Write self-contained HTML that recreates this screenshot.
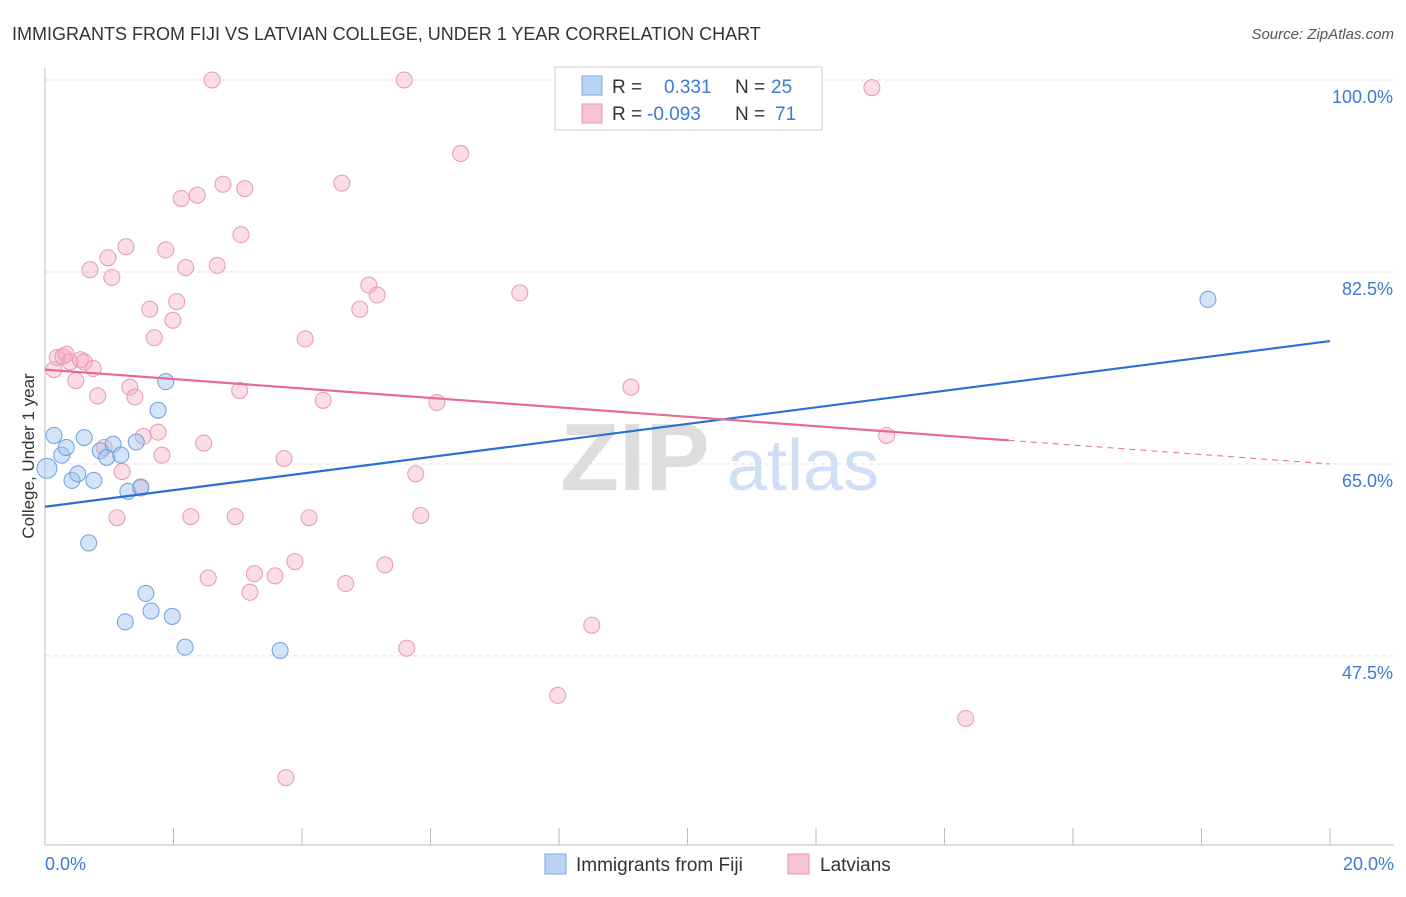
<!DOCTYPE html>
<html><head><meta charset="utf-8">
<style>
body{margin:0;background:#fff;font-family:"Liberation Sans",sans-serif;}
svg text{font-family:"Liberation Sans",sans-serif;}
</style></head>
<body>
<svg width="1406" height="892" xmlns="http://www.w3.org/2000/svg">
<text x="12" y="40" font-size="18" fill="#333">IMMIGRANTS FROM FIJI VS LATVIAN COLLEGE, UNDER 1 YEAR CORRELATION CHART</text>
<text x="1394" y="39" font-size="15" fill="#555" text-anchor="end" font-style="italic">Source: ZipAtlas.com</text>
<g id="grid"></g>
<g>
<text x="635" y="490" font-size="96" fill="#ddd" font-family="Liberation Serif" text-anchor="middle" font-weight="bold">ZIP</text>
<text x="803" y="490" font-size="72" fill="#cfe0f5" text-anchor="middle">atlas</text>
</g>
<line x1="45" y1="68" x2="45" y2="845" stroke="#bbb"/>
<line x1="45" y1="845" x2="1394" y2="845" stroke="#bbb"/>
<g id="ticks"></g>
<g id="ylabels"></g>
<text x="45" y="870" font-size="18" fill="#3a7bd5">0.0%</text>
<text x="1394" y="870" font-size="18" fill="#3a7bd5" text-anchor="end">20.0%</text>
<text transform="translate(34,456) rotate(-90)" font-size="17" fill="#333" text-anchor="middle">College, Under 1 year</text>
<g id="pink"></g>
<g id="blue"></g>
<g id="lines"></g>
<g>
<rect x="555" y="67" width="267" height="63" fill="#fff" stroke="#ccc"/>
<rect x="582" y="76" width="20" height="19" fill="#b8d3f5" stroke="#7aa8e0"/>
<rect x="582" y="104" width="20" height="19" fill="#f8c3d4" stroke="#e896b0"/>
<text x="612" y="93" font-size="19" fill="#333">R = </text><text x="664" y="93" font-size="19" fill="#3a7bd5">0.331</text>
<text x="735" y="93" font-size="19" fill="#333">N = </text><text x="771" y="93" font-size="19" fill="#3a7bd5">25</text>
<text x="612" y="120" font-size="19" fill="#333">R = </text><text x="647" y="120" font-size="19" fill="#3a7bd5">-0.093</text>
<text x="735" y="120" font-size="19" fill="#333">N = </text><text x="775" y="120" font-size="19" fill="#3a7bd5">71</text>
</g>
<g>
<rect x="545" y="854" width="21" height="20" fill="#b8d3f5" stroke="#7aa8e0"/>
<text x="576" y="871" font-size="19" fill="#333">Immigrants from Fiji</text>
<rect x="788" y="854" width="21" height="20" fill="#f8c3d4" stroke="#e896b0"/>
<text x="820" y="871" font-size="19" fill="#333">Latvians</text>
</g>
</svg>
<script>
const yTicks=[47.5,65.0,82.5,100.0];
const xTickVals=[0,2,4,6,8,10,12,14,16,18,20];
const fijiX=[0.03,0.14,0.26,0.33,0.42,0.51,0.61,0.68,0.76,0.86,0.96,1.06,1.18,1.25,1.29,1.42,1.49,1.57,1.65,1.76,1.88,1.98,2.18,3.66,18.10];
const fijiY=[64.6,67.6,65.8,66.5,63.5,64.1,67.4,57.8,63.5,66.2,65.6,66.8,65.8,50.6,62.5,67.0,62.9,53.2,51.6,69.9,72.5,51.1,48.3,48.0,80.0];
const latX=[0.14,0.19,0.28,0.33,0.39,0.48,0.55,0.61,0.70,0.75,0.82,0.92,0.98,1.04,1.12,1.20,1.26,1.32,1.40,1.49,1.53,1.63,1.70,1.76,1.82,1.88,1.99,2.05,2.12,2.19,2.27,2.37,2.47,2.54,2.60,2.68,2.77,2.96,3.03,3.05,3.11,3.19,3.26,3.58,3.72,3.75,3.89,4.05,4.11,4.33,4.62,4.68,4.90,5.04,5.17,5.29,5.59,5.63,5.77,5.85,6.10,6.47,7.39,7.98,8.51,9.12,10.44,12.87,13.10,14.33];
const latY=[73.6,74.7,74.8,75.0,74.3,72.6,74.5,74.3,82.7,73.7,71.2,66.5,83.8,82.0,60.1,64.3,84.8,72.0,71.1,62.8,67.5,79.1,76.5,67.9,65.8,84.5,78.1,79.8,89.2,82.9,60.2,89.5,66.9,54.6,100,83.1,90.5,60.2,71.7,85.9,90.1,53.3,55.0,54.8,65.5,36.4,56.1,76.4,60.1,70.8,90.6,54.1,79.1,81.3,80.4,55.8,100,48.2,64.1,60.3,70.6,93.3,80.6,43.9,50.3,72.0,100,99.3,67.6,41.8];
const fijiTrend=[61.1,76.2];
const latTrend=[73.6,65.0];
const latSolidEnd=15.0;
const NS="http://www.w3.org/2000/svg";
const sx=v=>45+v*64.25;
const sy=v=>80+(100-v)*10.97;
function mk(tag,attrs,parent){const e=document.createElementNS(NS,tag);for(const k in attrs)e.setAttribute(k,attrs[k]);parent.appendChild(e);return e;}
const grid=document.getElementById('grid'),yl=document.getElementById('ylabels'),tk=document.getElementById('ticks');
yTicks.forEach(t=>{
 const l=mk('line',{x1:45,x2:1394,y1:sy(t),y2:sy(t),stroke:'#ddd','stroke-dasharray':'4,4'},grid);
 
 
 const tx=mk('text',{x:1393,y:sy(t)+23,'font-size':18,fill:'#3a7bd5','text-anchor':'end'},yl);
 tx.textContent=t.toFixed(1)+'%';
 
 
});
xTickVals.forEach(v=>{
 const l=mk('line',{x1:sx(v),x2:sx(v),y1:828,y2:845,stroke:'#bbb'},tk);
 
 
});
const pg=document.getElementById('pink'),bg=document.getElementById('blue');
latX.forEach((x,i)=>{
 const c=mk('circle',{cx:sx(x),cy:sy(latY[i]),r:8,fill:'rgba(244,170,195,0.4)',stroke:'#e898b3','stroke-width':1},pg);
 
 
});
fijiX.forEach((x,i)=>{
 const c=mk('circle',{cx:sx(x),cy:sy(fijiY[i]),r:i==0?10:8,fill:'rgba(160,195,240,0.45)',stroke:'#6f9fe0','stroke-width':1},bg);
 
 
});
const lg=document.getElementById('lines');
let b=mk('line',{x1:sx(0),y1:sy(fijiTrend[0]),x2:sx(20),y2:sy(fijiTrend[1]),stroke:'#2a6fd6','stroke-width':2.2},lg);


const ly=x=>latTrend[0]+(latTrend[1]-latTrend[0])*x/20;
let p=mk('line',{x1:sx(0),y1:sy(ly(0)),x2:sx(latSolidEnd),y2:sy(ly(latSolidEnd)),stroke:'#e8689a','stroke-width':2.2},lg);


let pd=mk('line',{x1:sx(latSolidEnd),y1:sy(ly(latSolidEnd)),x2:sx(20),y2:sy(ly(20)),stroke:'#e8689a','stroke-width':1,'stroke-dasharray':'6,5'},lg);


</script>
</body></html>
